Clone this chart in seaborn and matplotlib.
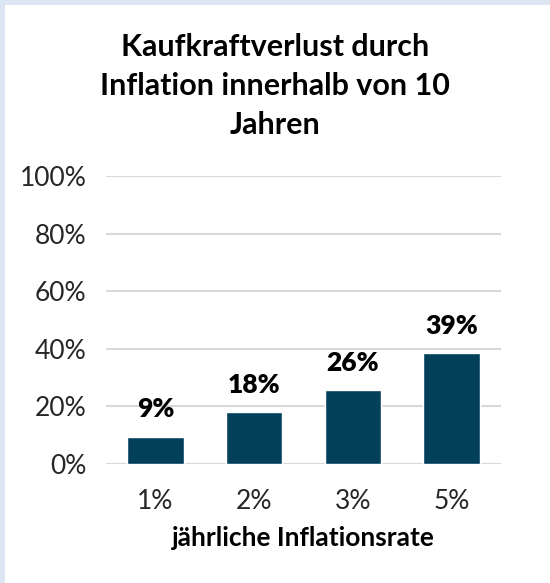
import matplotlib
matplotlib.use("Agg")
import matplotlib.pyplot as plt
import seaborn as sns
import pandas as pd
from matplotlib.patches import Rectangle

RATES = ["1%", "2%", "3%", "5%"]
LOSS = [9.47, 17.97, 25.59, 38.61]
LABELS = ["9%", "18%", "26%", "39%"]
Y_TICKS = [0, 20, 40, 60, 80, 100]

BAR_COLOR = "#03405a"
BORDER_COLOR = "#dce6f2"

sns.set_theme(style="white")
plt.rcParams["font.family"] = ["Lato", "DejaVu Sans"]

df = pd.DataFrame({"rate": RATES, "loss": LOSS})

fig = plt.figure(figsize=(5.5, 5.83), dpi=100)
fig.patch.set_facecolor(BORDER_COLOR)
fig.patches.append(Rectangle((5 / 550, 0), 1, 1 - 5 / 583, transform=fig.transFigure,
                             facecolor="white", edgecolor="none", zorder=-1))

ax = fig.add_axes([106 / 550, 1 - 464 / 583, 395 / 550, 288 / 583])
ax.set_facecolor("none")
sns.barplot(data=df, x="rate", y="loss", color=BAR_COLOR, width=0.57,
            saturation=1, ax=ax, zorder=3)

ax.set_ylim(0, 100)
ax.set_yticks(Y_TICKS)
ax.set_yticklabels([f"{t}%" for t in Y_TICKS])
ax.grid(axis="y", color="#d9d9d9", linewidth=1.5, zorder=0)
ax.set_axisbelow(True)
sns.despine(ax=ax, left=True, bottom=True)
ax.tick_params(axis="both", length=0, labelsize=19, colors="#262626")
ax.tick_params(axis="y", pad=14)
ax.tick_params(axis="x", pad=18)

for bar, txt in zip(ax.patches, LABELS):
    ax.annotate(txt, (bar.get_x() + bar.get_width() / 2, bar.get_height()),
                xytext=(0, 11), textcoords="offset points",
                ha="center", va="bottom", fontsize=19, fontweight="heavy", color="black")

ax.set_xlabel("jährliche Inflationsrate", fontsize=19, fontweight="bold", labelpad=9, color="black")
ax.set_ylabel("")

fig.text(0.5, 1 - 86 / 583, "Kaufkraftverlust durch\nInflation innerhalb von 10\nJahren",
         ha="center", va="center", fontsize=22, fontweight="bold", linespacing=1.5, color="black")

fig.savefig("out.png", dpi=100, facecolor=fig.get_facecolor())
